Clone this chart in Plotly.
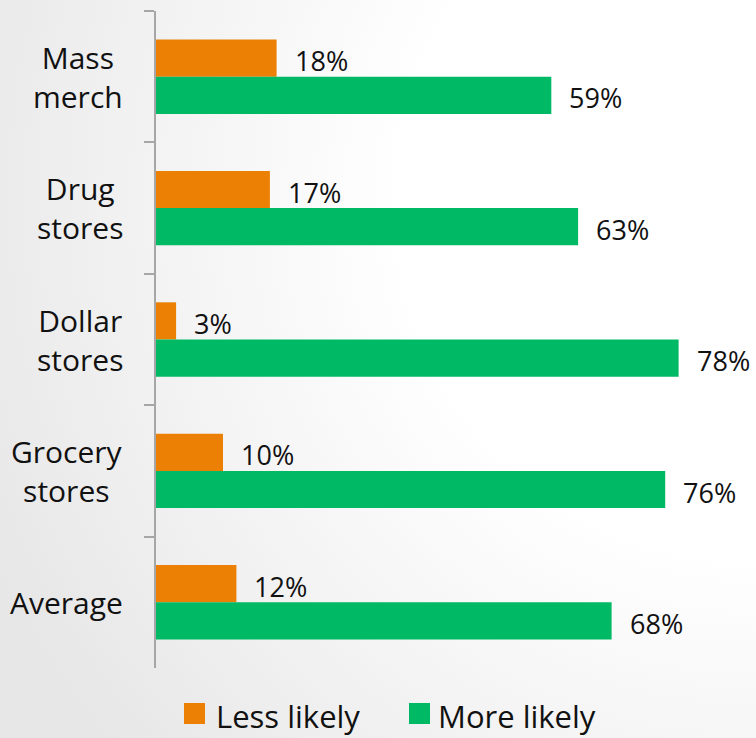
import base64
import plotly.graph_objects as go

# Survey: likelihood to shop each channel
categories = ["Mass merch", "Drug stores", "Dollar stores", "Grocery stores", "Average"]
category_labels = ["Mass<br>merch", "Drug<br>stores", "Dollar<br>stores", "Grocery<br>stores", "Average"]
less_likely = [18, 17, 3, 10, 12]
more_likely = [59, 63, 78, 76, 68]
series_names = ["Less likely", "More likely"]

ORANGE = "#EC8004"
GREEN = "#00B964"
AXIS_GRAY = "#A6A6A6"
FONT = "Open Sans"

W, H = 756, 738
L, R, T, B = 156, 0, 11, 70
PW, PH = W - L - R, H - T - B
X_MAX = 89.55


def px_to_paper_x(px):
    return (px - L) / PW


def px_to_paper_y(py):
    return (H - B - py) / PH


fig = go.Figure()
fig.add_trace(go.Bar(y=categories, x=less_likely, orientation="h", name=series_names[0],
                     marker=dict(color=ORANGE, line=dict(width=0)), showlegend=False))
fig.add_trace(go.Bar(y=categories, x=more_likely, orientation="h", name=series_names[1],
                     marker=dict(color=GREEN, line=dict(width=0)), showlegend=False))

annotations = []
# value labels to the right of each bar
bar_offset_px = 18.6
for cat, v in zip(categories, less_likely):
    annotations.append(dict(x=v, y=cat, xref="x", yref="y", text=f"{v}%", showarrow=False,
                            xanchor="left", yanchor="middle", xshift=16, yshift=bar_offset_px - 2.5,
                            font=dict(family=FONT, size=27, color="#111111")))
for cat, v in zip(categories, more_likely):
    annotations.append(dict(x=v, y=cat, xref="x", yref="y", text=f"{v}%", showarrow=False,
                            xanchor="left", yanchor="middle", xshift=16, yshift=-bar_offset_px - 2.5,
                            font=dict(family=FONT, size=27, color="#111111")))

# category labels, centred line by line
for cat, lab in zip(categories, category_labels):
    annotations.append(dict(x=0, y=cat, xref="paper", yref="y", text=lab, showarrow=False,
                            xanchor="right", yanchor="middle", align="center", xshift=-31,
                            font=dict(family=FONT, size=30, color="#111111")))

# custom legend with large swatches
shapes = []
legend_items = [(series_names[0], ORANGE, 184, 217), (series_names[1], GREEN, 409, 439)]
lg_top = 703
for name, color, sx, tx in legend_items:
    shapes.append(dict(type="rect", xref="paper", yref="paper",
                       x0=px_to_paper_x(sx), x1=px_to_paper_x(sx + 21),
                       y0=px_to_paper_y(lg_top + 21), y1=px_to_paper_y(lg_top),
                       fillcolor=color, line=dict(width=0)))
    annotations.append(dict(x=px_to_paper_x(tx - 3), y=px_to_paper_y(lg_top + 13),
                            xref="paper", yref="paper",
                            text=name, showarrow=False, xanchor="left", yanchor="middle",
                            font=dict(family=FONT, size=31, color="#111111")))

# soft grey-to-white backdrop
svg = f"""<svg xmlns='http://www.w3.org/2000/svg' width='{W}' height='{H}' viewBox='0 0 {W} {H}'>
<defs><radialGradient id='g' gradientUnits='userSpaceOnUse' cx='{W}' cy='200' r='840'>
<stop offset='0' stop-color='#ffffff'/><stop offset='0.42' stop-color='#ffffff'/>
<stop offset='1' stop-color='#e7e7e7'/></radialGradient></defs>
<rect width='{W}' height='{H}' fill='url(#g)'/></svg>"""
bg_src = "data:image/svg+xml;base64," + base64.b64encode(svg.encode()).decode()

fig.update_layout(
    width=W, height=H,
    margin=dict(l=L, r=R, t=T, b=B, pad=0),
    paper_bgcolor="white",
    plot_bgcolor="rgba(0,0,0,0)",
    barmode="group",
    bargap=0.434,
    bargroupgap=0,
    showlegend=False,
    annotations=annotations,
    shapes=shapes,
    images=[dict(source=bg_src, xref="paper", yref="paper",
                 x=px_to_paper_x(0), y=px_to_paper_y(0),
                 sizex=W / PW, sizey=H / PH, sizing="stretch",
                 xanchor="left", yanchor="top", layer="below")],
    xaxis=dict(range=[0, X_MAX], visible=False, fixedrange=True),
    yaxis=dict(type="category", categoryorder="array", categoryarray=categories,
               range=[4.5, -0.5], showline=True, linecolor=AXIS_GRAY, linewidth=2,
               ticks="outside", tickson="boundaries", ticklen=10, tickwidth=2,
               tickcolor=AXIS_GRAY, showticklabels=False, showgrid=False, zeroline=False,
               fixedrange=True),
)

fig.write_html("out.html")
